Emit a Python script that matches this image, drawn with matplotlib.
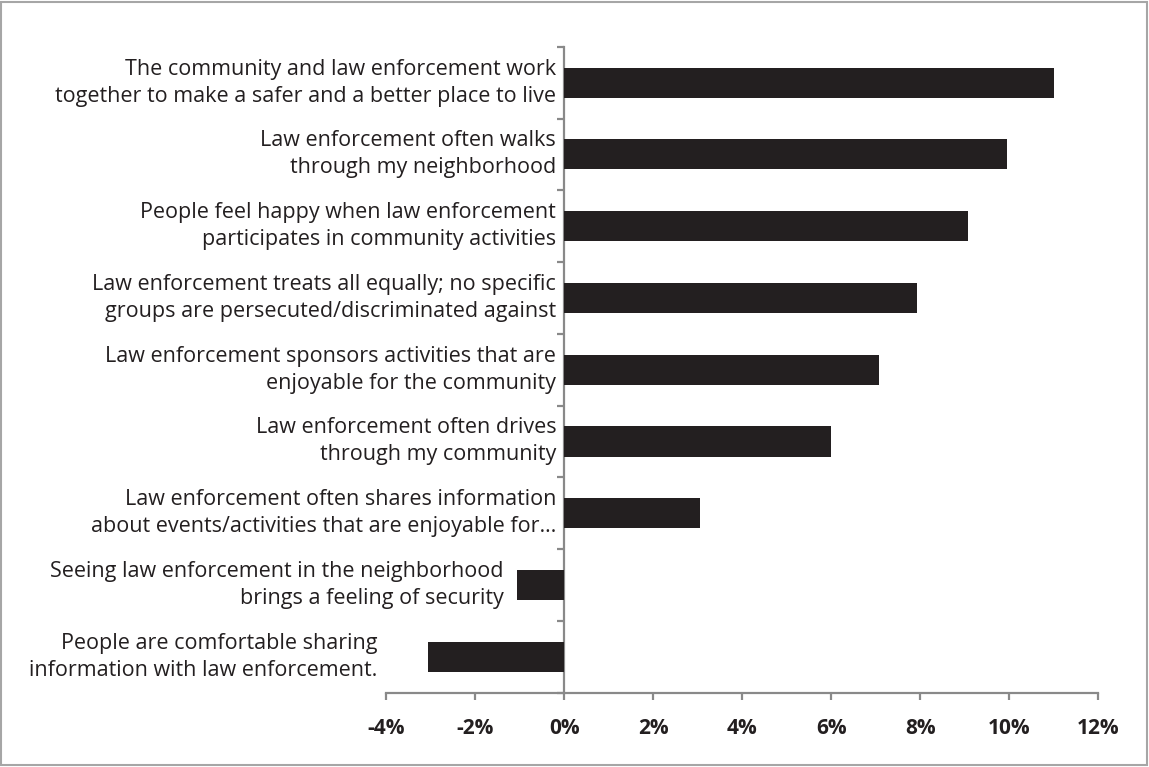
import numpy as np
import matplotlib.pyplot as plt
from matplotlib.patches import Rectangle

plt.rcParams['font.family'] = ['Open Sans', 'DejaVu Sans']

statements = [
    "The community and law enforcement work\ntogether to make a safer and a better place to live",
    "Law enforcement often walks\nthrough my neighborhood",
    "People feel happy when law enforcement\nparticipates in community activities",
    "Law enforcement treats all equally; no specific\ngroups are persecuted/discriminated against",
    "Law enforcement sponsors activities that are\nenjoyable for the community",
    "Law enforcement often drives\nthrough my community",
    "Law enforcement often shares information\nabout events/activities that are enjoyable for\u2026",
    "Seeing law enforcement in the neighborhood\nbrings a feeling of security",
    "People are comfortable sharing\ninformation with law enforcement.",
]
change_pct = [11.0, 9.94, 9.07, 7.93, 7.08, 5.99, 3.06, -1.07, -3.06]
xticks_pct = [-4, -2, 0, 2, 4, 6, 8, 10, 12]

bar_color = "#231f20"
axis_gray = "#898989"

fig = plt.figure(figsize=(11.49, 7.67), dpi=100)
ax = fig.add_axes([0.336, 0.097, 0.62, 0.842])

y = np.arange(len(statements))
ax.barh(y, change_pct, height=0.42, color=bar_color, zorder=3)

ax.set_xlim(xticks_pct[0], xticks_pct[-1])
ax.set_ylim(len(statements) - 0.5, -0.5)

# category ticks sit between the bars, labels are placed by hand
ax.set_yticks(np.arange(len(statements) + 1) - 0.5)
ax.set_yticklabels([])
ax.set_xticks(xticks_pct)
ax.set_xticklabels([f"{t}%" for t in xticks_pct], fontsize=15, fontweight="bold",
                   color="#231f20")

for s in ("top", "right"):
    ax.spines[s].set_visible(False)
ax.spines["left"].set_position(("data", 0))
for s in ("left", "bottom"):
    ax.spines[s].set_color(axis_gray)
    ax.spines[s].set_linewidth(1.6)
ax.tick_params(axis="both", direction="out", length=5, width=1.6, color=axis_gray)
ax.tick_params(axis="x", pad=13)

# statement text sits just left of the bar or axis; long negative bars push it
# out past the plot's left edge
for yi, (label, v) in enumerate(zip(statements, change_pct)):
    xr = min(v, 0)
    pad = -8 if v >= 0 else -13
    if xr - 1.0 <= xticks_pct[0]:
        xr, pad = xticks_pct[0], -9
    ax.annotate(label, xy=(xr, yi), xytext=(pad, 0), textcoords="offset pixels",
                ha="right", va="center", multialignment="right", fontsize=15.5,
                color="#231f20", linespacing=1.38, annotation_clip=False)

fig.patches.append(Rectangle((0.001, 0.002), 0.997, 0.995, transform=fig.transFigure,
                             fill=False, edgecolor="#a6a6a6", linewidth=1.5))

fig.savefig("out.png", dpi=100, facecolor="white")
